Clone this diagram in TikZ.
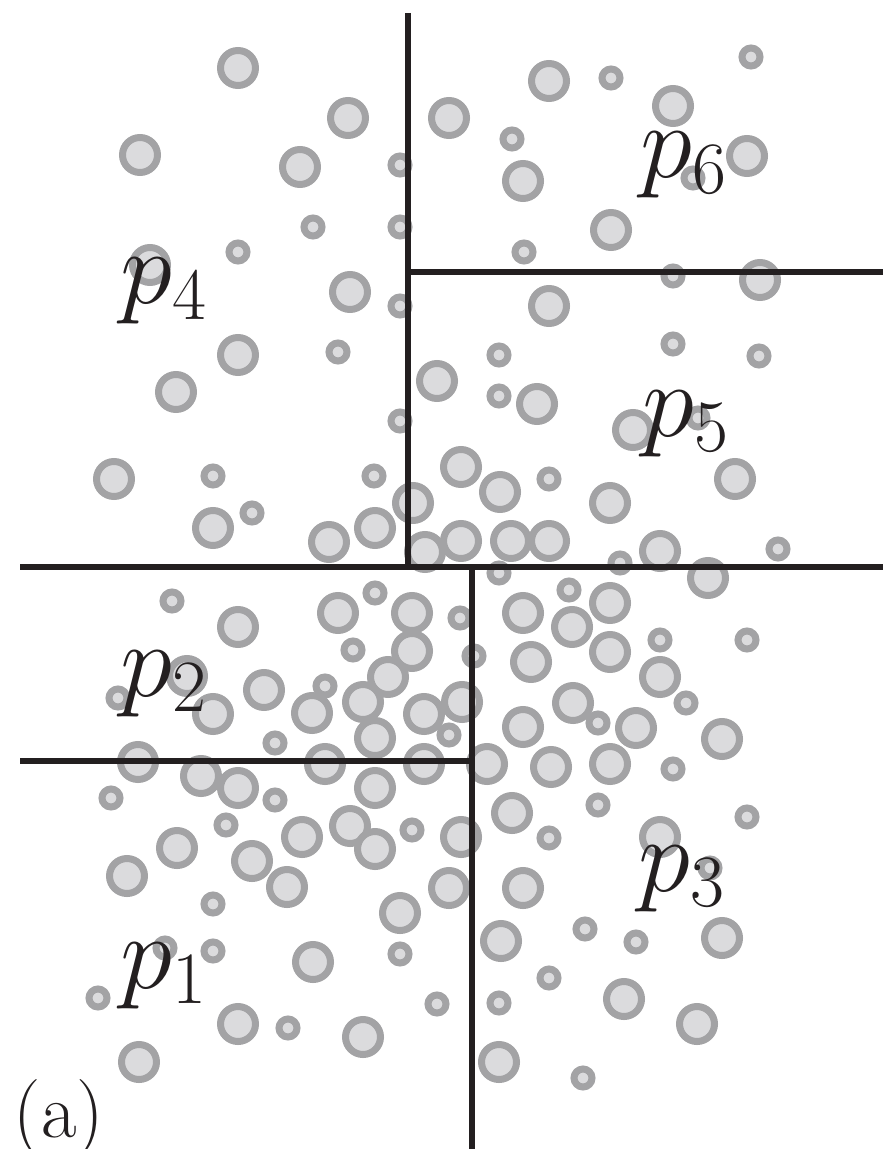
\RequirePackage{fix-cm}
\documentclass[tikz,border=0pt]{standalone}
\usepackage{amsmath}
\usepackage{xcolor}
\definecolor{ptfill}{RGB}{219,219,221}
\definecolor{ptline}{RGB}{163,163,165}
\definecolor{cutline}{RGB}{35,31,32}
\usepackage{tikz}
\usetikzlibrary{positioning}

\begin{document}
\begin{tikzpicture}[x=0.01cm, y=-0.01cm,
  bigpt/.style={circle, draw=ptline, fill=ptfill, line width=7*0.01cm,
                minimum size=35*0.01cm, inner sep=0pt},
  smallpt/.style={circle, draw=ptline, fill=ptfill, line width=7*0.01cm,
                  minimum size=18*0.01cm, inner sep=0pt},
  cut/.style={draw=cutline, line width=6*0.01cm},
  part/.style={anchor=base west, inner sep=0pt, text=cutline,
               font=\fontsize{30}{36}\selectfont}
]
\useasboundingbox (0,0) rectangle (883,1149);

% Points, large
\foreach \px/\py [count=\i] in {238/68,348/118,140/155,300/167,150/265,350/292,238/355,176/392,
  114/479,213/528,375/528,329/542,413/503,
  449/118,549/81,523/181,673/106,747/156,611/230,760/280,
  549/306,437/381,537/404,633/430,735/479,610/503,461/467,500/492,425/552,461/541,511/541,
  549/541,660/551,708/578,
  238/627,187/676,213/714,264/690,312/713,138/762,201/776,238/788,177/848,252/861,302/837,
  338/613,412/613,412/651,388/677,363/702,424/714,462/702,375/738,325/764,424/764,375/788,
  350/826,375/849,461/837,
  523/613,572/627,531/662,573/703,523/727,487/764,551/767,512/813,
  610/603,610/652,660/677,636/728,722/739,610/764,660/837,
  127/876,287/887,238/1024,139/1062,313/962,400/913,449/888,363/1037,
  523/888,501/941,499/1062,722/938,624/999,697/1024}
  \node[bigpt] (big\i) at (\px,\py) {};

% Points, small
\foreach \px/\py [count=\i] in {400/165,313/227,400/227,238/252,400/306,338/352,400/421,213/476,
  252/513,374/476,
  512/139,524/252,611/78,751/57,693/178,673/276,
  499/355,499/396,673/344,759/356,698/418,549/479,620/563,778/549,499/573,
  172/601,118/698,275/743,111/798,275/800,226/825,
  375/593,460/618,353/650,474/656,325/686,449/735,412/830,
  569/590,549/838,
  660/640,747/640,686/703,598/723,673/769,598/805,747/817,710/868,
  213/904,165/948,213/951,98/998,288/1028,400/954,437/1004,
  549/978,499/1003,585/929,583/1078,636/942}
  \node[smallpt] (small\i) at (\px,\py) {};

% Cuts
\draw[cut] (408,13) -- (408,567);
\draw[cut] (408,272) -- (883,272);
\draw[cut] (20,567) -- (883,567);
\draw[cut] (472,567) -- (472,1149);
\draw[cut] (20,761) -- (472,761);

% Parts
\node[part] (p4) at (120,304) {$p_4$};
\node[part] (p6) at (640,178) {$p_6$};
\node[part] (p5) at (642,436) {$p_5$};
\node[part] (p2) at (120,696) {$p_2$};
\node[part] (p3) at (638,891) {$p_3$};
\node[part] (p1) at (120,988) {$p_1$};
\node[part, font=\fontsize{22}{26}\selectfont] (tag) at (13,1137) {(a)};
\end{tikzpicture}
\end{document}
